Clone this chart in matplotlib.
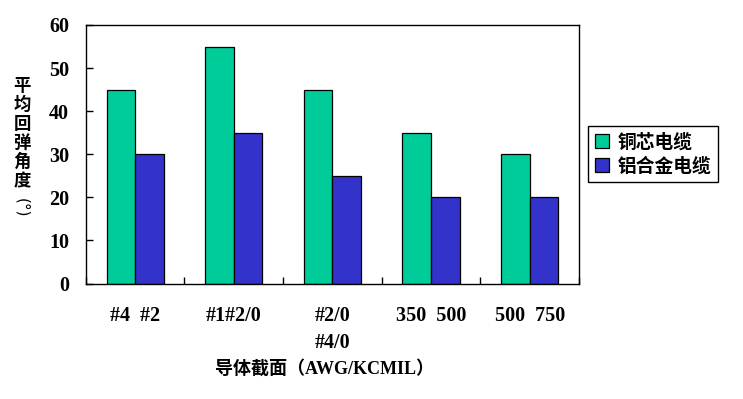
import matplotlib
matplotlib.use("Agg")
import matplotlib.pyplot as plt
import numpy as np

categories = ["#4  #2", "#1#2/0", "#2/0\n#4/0", "350  500", "500  750"]
copper = [45, 55, 45, 35, 30]
alloy = [30, 35, 25, 20, 20]
series_names = ["铜芯电缆", "铝合金电缆"]
yticks = [0, 10, 20, 30, 40, 50, 60]
ylabel_chars = list("平均回弹角度")
ylabel_unit = "(°)"
xlabel = "导体截面（AWG/KCMIL）"

serif = ["Liberation Serif", "Noto Sans CJK SC", "DejaVu Sans"]
cjk = ["Noto Sans CJK SC", "DejaVu Sans"]

W, H = 743, 399
fig = plt.figure(figsize=(7.43, 3.99), dpi=100)
ax = fig.add_axes([85.7/W, 1-283.5/H, (579-85.7)/W, (283.5-25)/H])

x = np.arange(len(categories))
w = 0.289
b1 = ax.bar(x - w/2, copper, w, color="#00CC99", edgecolor="black", linewidth=0.9, label=series_names[0])
b2 = ax.bar(x + w/2, alloy, w, color="#3333CC", edgecolor="black", linewidth=0.9, label=series_names[1])

ax.set_xlim(-0.5, len(categories) - 0.5)
ax.set_ylim(0, 60)
ax.set_yticks(yticks)
ax.set_yticklabels([str(v) for v in yticks], fontfamily=serif, fontweight="bold", fontsize=14.5)
ax.tick_params(axis="y", direction="in", length=5, width=1, pad=12)

ax.set_xticks(x)
ax.set_xticklabels(categories, fontfamily=serif, fontweight="bold", fontsize=14.5, linespacing=1.5, va="top")
ax.tick_params(axis="x", which="major", length=0, pad=16)
ax.set_xticks(np.arange(len(categories) + 1) - 0.5, minor=True)
ax.tick_params(axis="x", which="minor", direction="in", length=5, width=1)

for s in ax.spines.values():
    s.set_linewidth(1.0)
    s.set_color("black")

fig.text(325/W, 1-369/H, xlabel, ha="center", va="center",
         fontfamily=serif, fontweight="bold", fontsize=13)

for i, ch in enumerate(ylabel_chars):
    fig.text(22/W, 1-(86 + 19*i)/H, ch, ha="center", va="center",
             fontfamily=cjk, fontweight="bold", fontsize=12.5)
fig.text(22/W, 1-208/H, ylabel_unit, ha="center", va="center", rotation=-90,
         fontfamily="DejaVu Sans", fontsize=11)

leg = fig.legend(handles=[b1, b2], loc="center left", bbox_to_anchor=(588/W, 1-154/H),
                 prop={"family": cjk, "size": 13.5, "weight": "bold"},
                 frameon=True, fancybox=False, edgecolor="black", framealpha=1,
                 handlelength=0.75, handleheight=0.75, handletextpad=0.5,
                 borderpad=0.35, labelspacing=0.3, borderaxespad=0)
leg.get_frame().set_linewidth(1.0)

fig.savefig("out.png", dpi=100)
